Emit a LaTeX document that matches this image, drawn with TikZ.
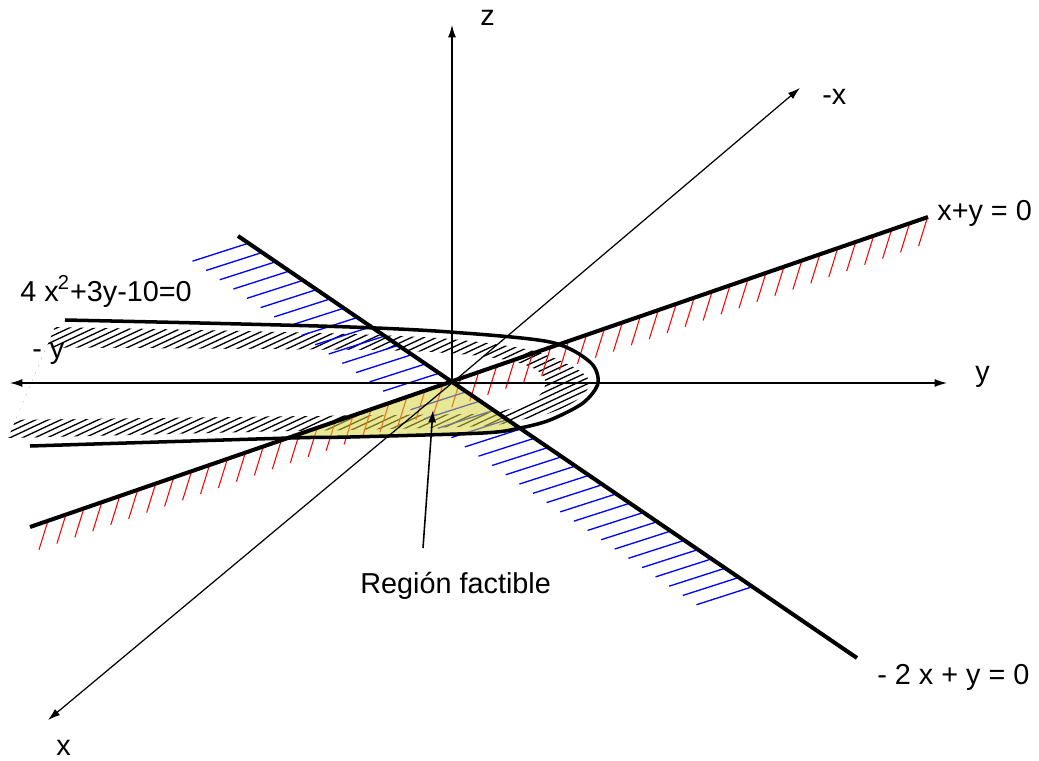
\documentclass[tikz,border=0pt]{standalone}
\usepackage{fontspec}
\setmainfont{Liberation Sans}
\usetikzlibrary{calc,arrows.meta}
\definecolor{amarillo}{RGB}{213,213,64}
\begin{document}
\begin{tikzpicture}[>={Latex[length=7pt,width=4.5pt]}, x=0.02cm, y=-0.02cm,
  eje/.style={line width=0.7pt},
  recta/.style={line width=2.3pt},
  rayado/.style={line width=0.75pt},
  etiq/.style={anchor=base west, inner sep=0pt, font=\fontsize{16.4}{19}\selectfont}]
  \useasboundingbox (0,0) rectangle (1039,761);
  % Puntos
  \coordinate (O) at (452,383);
  \coordinate (A) at (30,527);
  \coordinate (B) at (928,217);
  \coordinate (C) at (238,236);
  \coordinate (D) at (857,658);
  \coordinate (P) at (290,438);
  \coordinate (Q) at (520,428);
  % Rayado de la parabola
  \begin{scope}
    \clip plot[smooth, tension=0.5] coordinates {(55,327) (200,330) (350,334)
      (450,339) (530,350) (575,368) (590,383) (577,400) (550,413) (515,421)
      (483,426) (350,430) (290,431) (8,438)} -- cycle;
    \foreach \i in {-25,...,50}
      \draw[rayado] (\i*12.5,460) -- ++(320,-150);
    \fill[white] (0,347) -- (380,350) .. controls (480,353) and (540,360) .. (545,380)
      .. controls (548,398) and (520,412) .. (470,414) -- (300,416) -- (0,420) -- cycle;
  \end{scope}
  % Rayado de x+y=0
  \foreach \t in {0.02,0.04,...,1.0}
    \draw[rayado, red, line width=0.6pt] ($(A)!\t!(B)$) -- ++(-9,29);
  % Rayado de -2x+y=0
  \foreach \t in {0.017,0.039,...,0.85}
    \draw[rayado, blue] ($(C)!\t!(D)$) -- ++(-56,18);
  % Region factible
  \fill[amarillo, opacity=0.55] (P) -- (O) -- (Q) -- (483,433) -- (350,437) -- cycle;
  % Ejes
  \draw[eje, <->] (10,383) coordinate (ymenos) -- (947,383) coordinate (ymas);
  \draw[eje, ->] (O) -- (452,25) coordinate (zmas);
  \draw[eje, ->] (O) -- (800,88) coordinate (xmenos);
  \draw[eje, ->] (O) -- (48,720) coordinate (xmas);
  % Restricciones
  \draw[recta] (A) -- (B);
  \draw[recta] (C) -- (D);
  \draw[line width=2pt] plot[smooth, tension=0.5] coordinates {(65,320) (200,323)
    (350,327) (450,332) (550,342) (590,362) (598,383) (583,403) (550,420) (Q)
    (483,433) (350,437) (P) (30,446)};
  % Etiquetas
  \node[etiq] (lz) at (480,25) {z};
  \node[etiq] (lxm) at (822,104) {-x};
  \node[etiq] (lx) at (56,755) {x};
  \node[etiq] (ly) at (975,381) {y};
  \node[etiq] (lym) at (32,358) {- y};
  \node[etiq] (lr1) at (937,220) {x+y = 0};
  \node[etiq] (lr2) at (877,684) {- 2 x + y = 0};
  \node[etiq] (lpar) at (20,301) {4 x\kern-0.5pt\textsuperscript{2}+3y-10=0};
  \node[etiq] (lreg) at (360,593) {Región factible};
  \coordinate (cola) at (423,548);
  \coordinate (punta) at (433,410);
  \draw[eje, line width=0.9pt, ->] (cola) -- (punta);
\end{tikzpicture}
\end{document}
